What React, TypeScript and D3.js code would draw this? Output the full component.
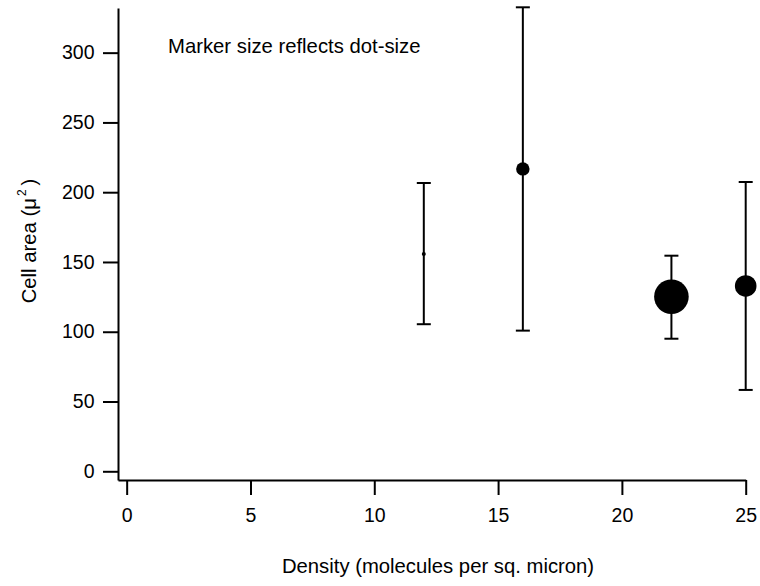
import React, { useEffect, useRef } from "react";
import * as d3 from "d3";

const density = [12, 16, 22, 25];
const meanArea = [155.7, 216.7, 125.1, 132.8];
const upperArea = [206.6, 332.5, 154.5, 207.3];
const lowerArea = [105.4, 100.8, 95.0, 58.3];
const dotSize = [2, 6.7, 17.3, 10.8];
const xTicks = [0, 5, 10, 15, 20, 25];
const yTicks = [0, 50, 100, 150, 200, 250, 300];

const W = 760;
const H = 586;
const FONT = "'Liberation Sans', Arial, sans-serif";
const FS = 19.5;
const TFS = 20.3;

export default function App() {
  const ref = useRef<SVGSVGElement | null>(null);

  useEffect(() => {
    const svg = d3.select(ref.current);
    svg.selectAll("*").remove();

    const x = d3.scaleLinear().domain([-0.35, 25]).range([118, 745.7]);
    const y = d3.scaleLinear().domain([-6.24, 332]).range([480, 8]);
    const r = d3.scaleLinear().domain([0, 1]).range([0, 1]);

    const xAxis = d3
      .axisBottom(x)
      .tickValues(xTicks)
      .tickSize(15)
      .tickSizeOuter(0)
      .tickPadding(13);
    const yAxis = d3
      .axisLeft(y)
      .tickValues(yTicks)
      .tickSize(15)
      .tickSizeOuter(0)
      .tickPadding(8.5);

    const gx = svg.append("g").attr("transform", "translate(0,480)").call(xAxis);
    const gy = svg.append("g").attr("transform", "translate(118,0)").call(yAxis);
    [gx, gy].forEach((g) => {
      g.selectAll("path.domain").attr("stroke", "#000").attr("stroke-width", 2);
      g.selectAll(".tick line").attr("stroke", "#000").attr("stroke-width", 2);
      g.selectAll(".tick text")
        .attr("fill", "#000")
        .style("font-family", FONT)
        .style("font-size", FS + "px");
    });

    const data = density.map((d, i) => ({
      x: d,
      m: meanArea[i],
      hi: upperArea[i],
      lo: lowerArea[i],
      s: dotSize[i],
    }));

    const g = svg.append("g");
    const bars = g.selectAll("g.bar").data(data).enter().append("g");
    bars
      .append("line")
      .attr("x1", (d) => x(d.x))
      .attr("x2", (d) => x(d.x))
      .attr("y1", (d) => y(d.hi))
      .attr("y2", (d) => y(d.lo))
      .attr("stroke", "#000")
      .attr("stroke-width", 2);
    bars
      .append("line")
      .attr("x1", (d) => x(d.x) - 7)
      .attr("x2", (d) => x(d.x) + 7)
      .attr("y1", (d) => y(d.hi))
      .attr("y2", (d) => y(d.hi))
      .attr("stroke", "#000")
      .attr("stroke-width", 2);
    bars
      .append("line")
      .attr("x1", (d) => x(d.x) - 7)
      .attr("x2", (d) => x(d.x) + 7)
      .attr("y1", (d) => y(d.lo))
      .attr("y2", (d) => y(d.lo))
      .attr("stroke", "#000")
      .attr("stroke-width", 2);
    bars
      .append("circle")
      .attr("cx", (d) => x(d.x))
      .attr("cy", (d) => y(d.m))
      .attr("r", (d) => r(d.s))
      .attr("fill", "#000");

    svg
      .append("text")
      .attr("x", 168)
      .attr("y", 53)
      .style("font-family", FONT)
      .style("font-size", TFS + "px")
      .attr("fill", "#000")
      .text("Marker size reflects dot-size");

    svg
      .append("text")
      .attr("x", 438)
      .attr("y", 573)
      .attr("text-anchor", "middle")
      .style("font-family", FONT)
      .style("font-size", TFS + "px")
      .attr("fill", "#000")
      .text("Density (molecules per sq. micron)");

    const yl = svg
      .append("text")
      .attr("transform", "translate(36,241) rotate(-90)")
      .attr("text-anchor", "middle")
      .style("font-family", FONT)
      .style("font-size", TFS + "px")
      .attr("fill", "#000");
    yl.append("tspan").text("Cell area (\u03bc");
    yl.append("tspan")
      .attr("dy", -10)
      .attr("dx", 2)
      .style("font-size", "12px")
      .text("2");
    yl.append("tspan").attr("dy", 10).attr("dx", 4).text(")");
  }, []);

  return (
    <svg
      ref={ref}
      width={W}
      height={H}
      style={{ position: "absolute", left: 0, top: 0, background: "#fff" }}
    />
  );
}
